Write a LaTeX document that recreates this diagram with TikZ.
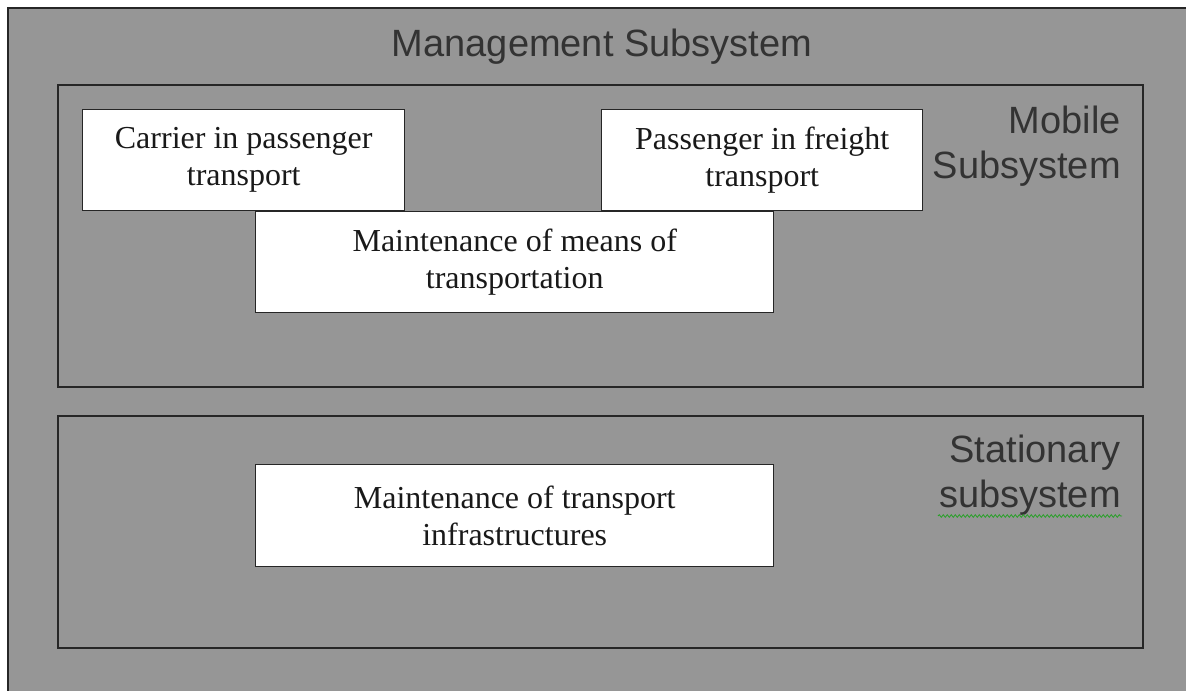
\documentclass[tikz,border=0pt]{standalone}
\usepackage{fontspec}
\setmainfont{Liberation Serif}
\setsansfont{Liberation Sans}
\usetikzlibrary{fit,decorations.pathmorphing}
\definecolor{panel}{RGB}{150,150,150}
\definecolor{edge}{RGB}{38,38,38}
\definecolor{lbl}{RGB}{51,51,51}
\definecolor{squig}{RGB}{40,160,40}
\begin{document}
\begin{tikzpicture}[x=0.75pt,y=-0.75pt,
 frame/.style={draw=edge,line width=1.1pt,fill=panel,inner sep=0pt},
 wbox/.style={draw=edge,line width=1.1pt,fill=white,inner sep=0pt,align=center,anchor=north west,
   minimum height=75.75pt,font=\fontsize{24}{27.75}\selectfont,text=black!90},
 title/.style={font=\sffamily\fontsize{28.5}{33.75}\selectfont,text=lbl,inner sep=0pt,align=right}]
\useasboundingbox (0,0) rectangle (1186,691);
\clip (0,0) rectangle (1186,691);
\fill[white] (0,0) rectangle (1186,691);
\coordinate (o1) at (8,8);
\coordinate (o2) at (1200,705);
\node[frame, fit=(o1)(o2)] (mgmt) {};
\node[title, anchor=base] (mgmttitle) at (602,57) {Management Subsystem};
\coordinate (m1) at (58,85);
\coordinate (m2) at (1143,387);
\node[frame, fit=(m1)(m2)] (mobile) {};
\node[title, anchor=base east] (mobiletitle) at (1121,179) {Mobile\\Subsystem};
\coordinate (s1) at (58,416);
\coordinate (s2) at (1143,648);
\node[frame, fit=(s1)(s2)] (stationary) {};
\node[title, anchor=base east] (stattitle) at (1121,508) {Stationary\\subsystem};
\draw[squig, line width=0.6pt, decorate, decoration={snake,segment length=3pt,amplitude=1pt}]
  (938,516) -- (1122,516);
\node[wbox, minimum width=241.5pt] (carrier) at (82,109) {Carrier in passenger\\transport};
\node[wbox, minimum width=240.75pt] (passenger) at (601,109) {Passenger in freight\\transport};
\node[wbox, minimum width=388.5pt] (means) at (255,211) {Maintenance of means of\\transportation};
\node[wbox, minimum width=388.5pt, minimum height=76.5pt] (infra) at (255,464) {Maintenance of transport\\infrastructures};
\end{tikzpicture}
\end{document}
